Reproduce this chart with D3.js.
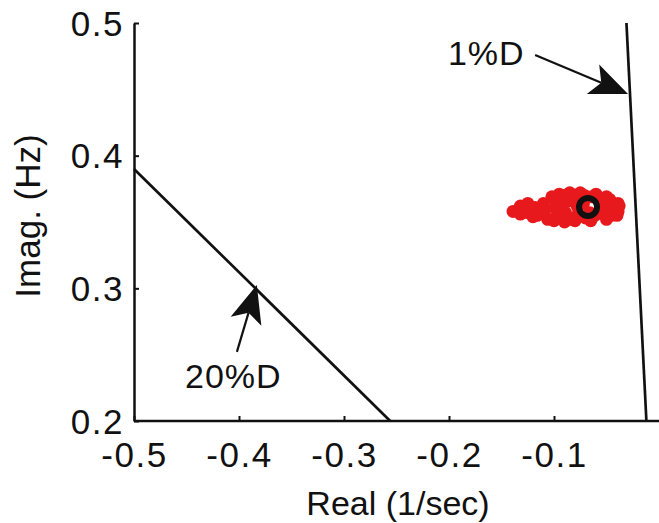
<!DOCTYPE html>
<html>
<head>
<meta charset="utf-8">
<script src="https://cdn.jsdelivr.net/npm/d3@7"></script>
<style>
  html, body { margin: 0; padding: 0; background: #fff; }
  text { font-family: "Liberation Sans", Arial, Helvetica, sans-serif; fill: #111; }
</style>
</head>
<body>
<svg id="chart" width="659" height="523"></svg>
<script>
// Axis ticks
const xTicks = [-0.5, -0.4, -0.3, -0.2, -0.1];
const yTicks = [0.2, 0.3, 0.4, 0.5];

// Constant-damping lines (real 1/sec, imag Hz), endpoints
const damp20Real = [-0.5, -0.256];
const damp20Imag = [0.39, 0.2];
const damp1Real = [-0.031, -0.012];
const damp1Imag = [0.5, 0.2];

// Identified modes (cloud of estimates)
const modeReal = [-0.139, -0.132, -0.132, -0.125, -0.125, -0.118, -0.116, -0.110, -0.109, -0.106,
  -0.102, -0.099, -0.097, -0.091, -0.090, -0.089, -0.085, -0.080, -0.078, -0.077,
  -0.071, -0.070, -0.064, -0.061, -0.056, -0.054, -0.052, -0.047, -0.045, -0.045,
  -0.039, -0.039, -0.096, -0.084, -0.072, -0.066,
  -0.095, -0.085, -0.075, -0.060, -0.050, -0.100, -0.090, -0.080, -0.065, -0.050,
  -0.040, -0.038, -0.120, -0.128];
const modeImag = [0.358, 0.362, 0.356, 0.364, 0.357, 0.361, 0.355, 0.364, 0.358, 0.352,
  0.369, 0.361, 0.355, 0.370, 0.364, 0.357, 0.352, 0.370, 0.362, 0.356,
  0.370, 0.353, 0.369, 0.355, 0.368, 0.361, 0.356, 0.367, 0.361, 0.355,
  0.364, 0.358, 0.366, 0.366, 0.364, 0.357,
  0.371, 0.372, 0.372, 0.371, 0.369, 0.351, 0.350, 0.351, 0.351, 0.352,
  0.355, 0.362, 0.354, 0.360];

// Mean mode
const meanReal = [-0.0676];
const meanImag = [0.3613];

// Annotations: label, label anchor, arrow tail, arrow tip
const annLabels = ["1%D", "20%D"];
const annLabelReal = [-0.201, -0.4514];
const annLabelImag = [0.4683, 0.2249];
const annTailReal = [-0.118, -0.402];
const annTailImag = [0.4759, 0.2521];
const annTipReal = [-0.0295, -0.383];
const annTipImag = [0.4465, 0.3026];

const svg = d3.select("#chart");
const x = d3.scaleLinear().domain([-0.5, 0]).range([134, 659]);
const y = d3.scaleLinear().domain([0.2, 0.5]).range([421, 23]);

// Plain hyphen-minus tick labels
const fmt = d => (d < 0 ? "-" : "") + Math.abs(d).toFixed(1);

// Axes (ticks pointing inward)
const xAxis = svg.append("g").attr("transform", `translate(0,${y(0.2)})`)
  .call(d3.axisBottom(x).tickValues(xTicks).tickSizeInner(-5).tickSizeOuter(0).tickFormat(fmt));
const yAxis = svg.append("g").attr("transform", `translate(${x(-0.5)},0)`)
  .call(d3.axisLeft(y).tickValues(yTicks).tickSizeInner(-5).tickSizeOuter(0).tickFormat(fmt));
[xAxis, yAxis].forEach(g => {
  g.select(".domain").attr("stroke", "#111").attr("stroke-width", 2.5);
  g.selectAll(".tick line").attr("stroke", "#111").attr("stroke-width", 2);
  g.selectAll(".tick text").attr("font-size", 35).attr("letter-spacing", 1.5)
    .attr("font-family", "Liberation Sans, Arial, sans-serif").attr("fill", "#111");
});
xAxis.select(".domain").attr("d", `M${x(-0.5)},0H659`);
xAxis.selectAll(".tick text").attr("dy", 0).attr("y", 46);
yAxis.selectAll(".tick text").attr("x", -10).attr("dy", "0.35em");

// Axis titles
svg.append("text").attr("x", 398).attr("y", 515).attr("text-anchor", "middle")
  .attr("font-size", 34).text("Real (1/sec)");
svg.append("text").attr("transform", "translate(40,216) rotate(-90)")
  .attr("text-anchor", "middle").attr("font-size", 35).text("Imag. (Hz)");

// Damping lines
const line = d3.line().x(d => x(d[0])).y(d => y(d[1]));
[[damp20Real, damp20Imag], [damp1Real, damp1Imag]].forEach(([re, im]) => {
  svg.append("path").datum(d3.zip(re, im)).attr("d", line)
    .attr("fill", "none").attr("stroke", "#111").attr("stroke-width", 2.7);
});

// Mode cloud
svg.append("g").selectAll("circle").data(d3.zip(modeReal, modeImag)).join("circle")
  .attr("cx", d => x(d[0])).attr("cy", d => y(d[1])).attr("r", 6.5)
  .attr("fill", "#e8191c");
svg.append("g").selectAll("circle").data(d3.zip(meanReal, meanImag)).join("circle")
  .attr("cx", d => x(d[0])).attr("cy", d => y(d[1])).attr("r", 9)
  .attr("fill", "none").attr("stroke", "#111").attr("stroke-width", 6);

// Annotation arrows and labels
annLabels.forEach((lab, i) => {
  const x0 = x(annTailReal[i]), y0 = y(annTailImag[i]);
  const x1 = x(annTipReal[i]), y1 = y(annTipImag[i]);
  const dx = x1 - x0, dy = y1 - y0, L = Math.hypot(dx, dy);
  const ux = dx / L, uy = dy / L, px = -uy, py = ux;
  const hl = 38, hw = 16, notch = 29;
  svg.append("line").attr("x1", x0).attr("y1", y0)
    .attr("x2", x1 - ux * notch).attr("y2", y1 - uy * notch)
    .attr("stroke", "#111").attr("stroke-width", 2.2);
  const head = [
    [x1, y1],
    [x1 - ux * hl + px * hw, y1 - uy * hl + py * hw],
    [x1 - ux * notch, y1 - uy * notch],
    [x1 - ux * hl - px * hw, y1 - uy * hl - py * hw]
  ];
  svg.append("path").attr("d", "M" + head.join("L") + "Z").attr("fill", "#111");
  svg.append("text").attr("x", x(annLabelReal[i])).attr("y", y(annLabelImag[i]))
    .attr("font-size", 34).attr("letter-spacing", 1).text(lab);
});
</script>
</body>
</html>
